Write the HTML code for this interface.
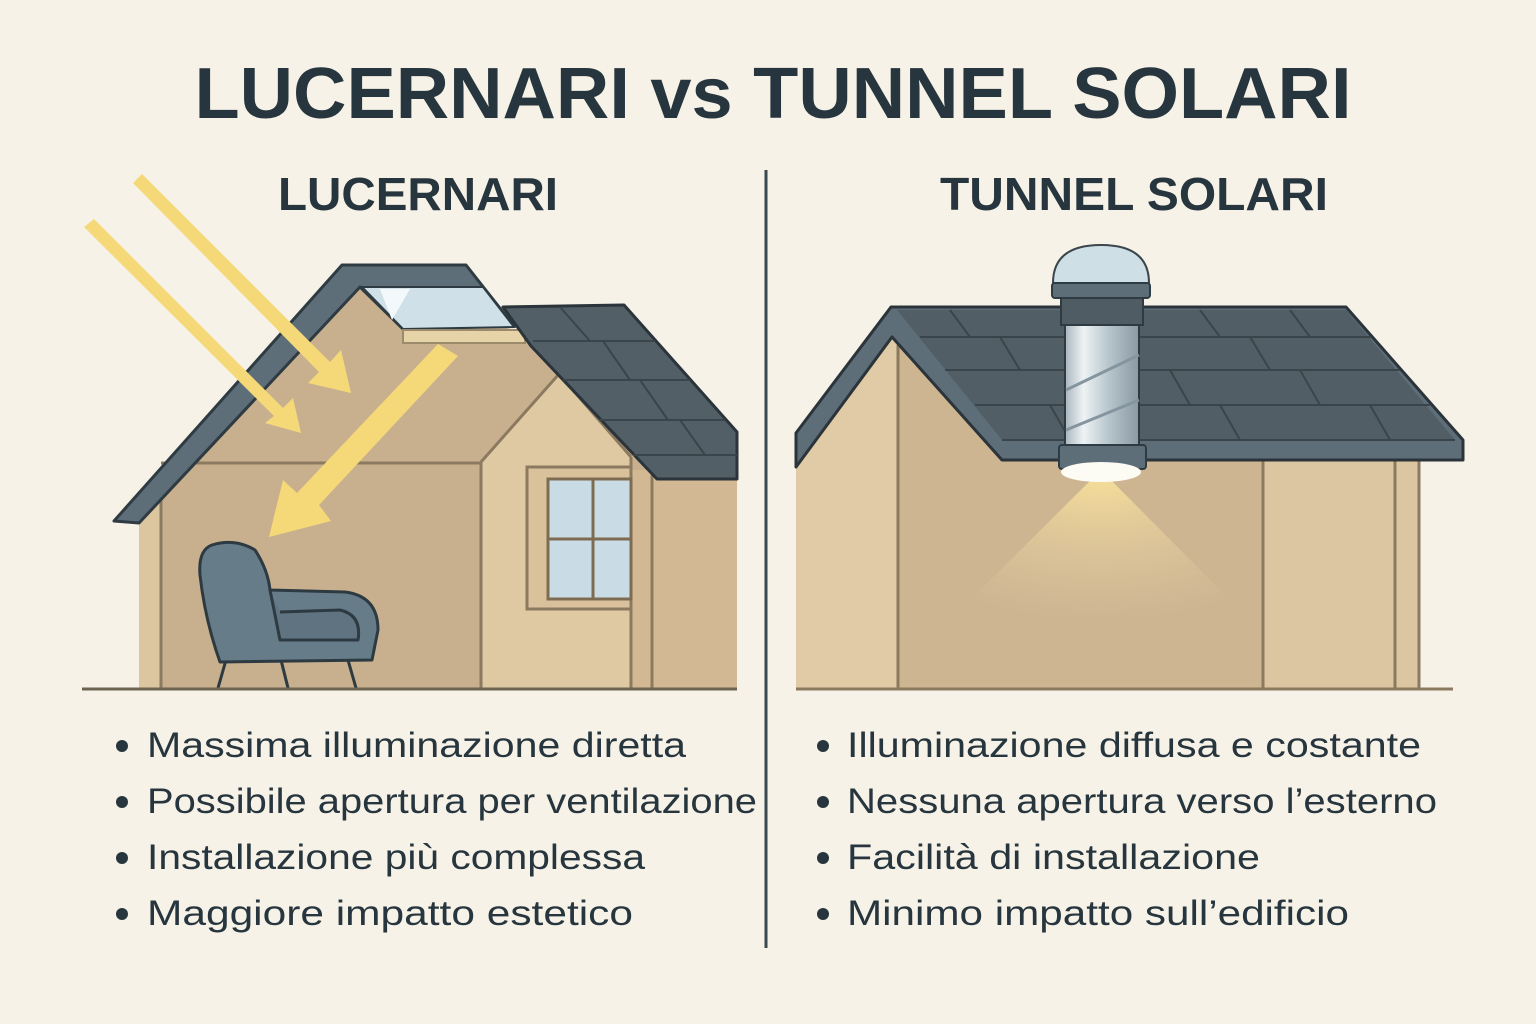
<!DOCTYPE html>
<html><head><meta charset="utf-8"><style>
html,body{margin:0;padding:0;background:#f7f2e7;}
svg{display:block}
text{font-family:"Liberation Sans",sans-serif;fill:#27363e}
</style></head><body>
<svg width="1536" height="1024" viewBox="0 0 1536 1024" xmlns="http://www.w3.org/2000/svg">
<defs>
<radialGradient id="glow" cx="0.5" cy="0" r="1">
<stop offset="0" stop-color="#fbe39a" stop-opacity="0.95"/>
<stop offset="0.5" stop-color="#f0d9a0" stop-opacity="0.45"/>
<stop offset="1" stop-color="#e8d3a8" stop-opacity="0"/>
</radialGradient>
<linearGradient id="tube" x1="0" x2="1">
<stop offset="0" stop-color="#a9b6bd"/><stop offset="0.25" stop-color="#eef3f5"/><stop offset="0.6" stop-color="#b6c4cb"/><stop offset="1" stop-color="#8a9aa2"/>
</linearGradient>
</defs>
<rect width="1536" height="1024" fill="#f7f2e7"/>

<text x="773" y="118" font-size="72" font-weight="bold" text-anchor="middle" textLength="1157" lengthAdjust="spacingAndGlyphs">LUCERNARI vs TUNNEL SOLARI</text>
<text x="418" y="210" font-size="46" font-weight="bold" text-anchor="middle" textLength="280" lengthAdjust="spacingAndGlyphs">LUCERNARI</text>
<text x="1134" y="210" font-size="46" font-weight="bold" text-anchor="middle" textLength="388" lengthAdjust="spacingAndGlyphs">TUNNEL SOLARI</text>
<line x1="766" y1="170" x2="766" y2="948" stroke="#3a4850" stroke-width="3"/>

<!-- LEFT HOUSE -->
<polygon points="139,688 139,523 360,287 514,330 737,479 737,688" fill="#c8b08e"/>
<polygon points="481,688 481,462 559,374 631,457 631,688" fill="#dfc9a3"/>
<rect x="631" y="470" width="106" height="218" fill="#d2b994"/>
<polygon points="139,688 139,523 161,500 161,688" fill="#dcc6a0"/>
<g stroke="#8c7a60" stroke-width="3" fill="none">
<line x1="161" y1="500" x2="161" y2="688"/>
<line x1="161" y1="463" x2="481" y2="463"/>
<line x1="481" y1="462" x2="481" y2="688"/>
<polyline points="481,462 559,374 631,457"/>
<line x1="631" y1="457" x2="631" y2="688"/>
<line x1="652" y1="475" x2="652" y2="688"/>
</g>
<!-- window -->
<rect x="527" y="467" width="104" height="142" fill="#d9c29b" stroke="#8c7a60" stroke-width="3"/>
<rect x="548" y="479" width="83" height="120" fill="#c9dbe4" stroke="#7e6c52" stroke-width="3"/>
<line x1="593" y1="479" x2="593" y2="599" stroke="#7e6c52" stroke-width="3"/>
<line x1="548" y1="539" x2="631" y2="539" stroke="#7e6c52" stroke-width="3"/>
<!-- left gray roof band -->
<polygon points="114,521 342,265 466,265 514,326 403,329 360,287 139,523" fill="#5e6e78" stroke="#2f3b42" stroke-width="3" stroke-linejoin="round"/>
<!-- skylight -->
<polygon points="362,287 483,287 514,327 403,329" fill="#cfe0e8" stroke="#2f3b42" stroke-width="2"/>
<polygon points="380,289 410,289 392,320" fill="#f3f8fa"/>
<rect x="403" y="330" width="122" height="13" fill="#e6d3a8" stroke="#9c8a6c" stroke-width="2"/>
<!-- right dark roof -->
<polygon points="503,307 624,305 737,432 737,479 657,479 531,346" fill="#525f67" stroke="#2a343a" stroke-width="3" stroke-linejoin="round"/>
<g stroke="#3a454b" stroke-width="2">
<line x1="533" y1="341" x2="655" y2="341"/><line x1="563" y1="380" x2="690" y2="380"/>
<line x1="600" y1="420" x2="725" y2="420"/><line x1="633" y1="455" x2="737" y2="455"/>
<line x1="560" y1="307" x2="590" y2="341"/><line x1="603" y1="341" x2="630" y2="380"/>
<line x1="640" y1="380" x2="668" y2="420"/><line x1="680" y1="420" x2="705" y2="455"/>
</g>
<!-- chair -->
<g stroke="#2d3a42" stroke-width="3" stroke-linejoin="round">
<line x1="226" y1="660" x2="218" y2="688"/><line x1="281" y1="660" x2="288" y2="688"/>
<line x1="348" y1="660" x2="356" y2="688"/>
<path d="M212,545 Q235,538 255,550 Q268,570 270,590 L345,592 Q378,596 378,630 L372,660 L220,662 Q205,620 200,575 Q198,550 212,545 Z" fill="#667c88"/>
<path d="M270,590 L280,640 L358,640 Q362,615 340,610 L280,612" fill="#5f7480"/>
</g>
<!-- arrows -->
<g fill="#f5d978" stroke="none">
<polygon points="133,183 142,174 330,362 341,350 351,393 308,383 319,372"/>
<polygon points="84,227 94,219 283,408 293,398 301,433 265,423 274,416"/>
<polygon points="438,344 458,356 319,505 331,521 269,537 283,480 297,493"/>
</g>

<!-- RIGHT HOUSE -->
<polygon points="796,688 796,467 892,337 1002,460 1419,460 1419,688" fill="#cdb592"/>
<polygon points="796,688 796,467 892,337 898,345 898,688" fill="#e0cba6"/>
<rect x="1263" y="460" width="156" height="228" fill="#dcc6a1"/>
<g stroke="#8c7a60" stroke-width="3">
<line x1="898" y1="345" x2="898" y2="688"/><line x1="1263" y1="460" x2="1263" y2="688"/>
<line x1="1395" y1="460" x2="1395" y2="688"/><line x1="1419" y1="460" x2="1419" y2="688"/>
</g>
<path d="M1101,470 L1230,600 Q1101,640 970,600 Z" fill="url(#glow)"/>
<polygon points="796,433 891,307 1346,307 1463,440 1463,460 1002,460 892,337 796,467" fill="#5e6e78" stroke="#2a343a" stroke-width="3" stroke-linejoin="round"/>
<polygon points="897,310 1346,310 1455,440 1002,440" fill="#515e66"/>
<g stroke="#3a454b" stroke-width="2">
<line x1="920" y1="337" x2="1371" y2="337"/><line x1="945" y1="370" x2="1400" y2="370"/>
<line x1="975" y1="405" x2="1430" y2="405"/><line x1="1002" y1="440" x2="1455" y2="440"/>
<line x1="950" y1="310" x2="970" y2="337"/><line x1="1000" y1="337" x2="1020" y2="370"/>
<line x1="1200" y1="310" x2="1220" y2="337"/><line x1="1250" y1="337" x2="1270" y2="370"/>
<line x1="1170" y1="370" x2="1190" y2="405"/><line x1="1300" y1="370" x2="1320" y2="405"/>
<line x1="1050" y1="405" x2="1070" y2="440"/><line x1="1220" y1="405" x2="1240" y2="440"/>
<line x1="1370" y1="405" x2="1390" y2="440"/><line x1="1290" y1="310" x2="1310" y2="337"/>
</g>
<!-- tube -->
<path d="M1053,283 Q1053,245 1101,245 Q1149,245 1149,283 Z" fill="#cfdfe6" stroke="#3a464c" stroke-width="2"/>
<rect x="1052" y="283" width="98" height="15" rx="3" fill="#5e6e78" stroke="#2f3b42" stroke-width="2"/>
<rect x="1061" y="298" width="82" height="27" fill="#4f5c63" stroke="#2f3b42" stroke-width="2"/>
<rect x="1065" y="325" width="74" height="120" fill="url(#tube)" stroke="#2f3b42" stroke-width="2"/>
<path d="M1066,390 L1139,355 M1066,430 L1139,400" stroke="#8595a0" stroke-width="3" fill="none"/>
<rect x="1059" y="445" width="87" height="24" rx="3" fill="#5e6e78" stroke="#2f3b42" stroke-width="2"/>
<ellipse cx="1101" cy="472" rx="40" ry="10" fill="#fdfcf4"/>
<line x1="796" y1="689" x2="1453" y2="689" stroke="#8c7a60" stroke-width="3"/>
<line x1="82" y1="689" x2="737" y2="689" stroke="#6e6250" stroke-width="3"/>

<!-- bullets -->
<g font-size="35">
<circle cx="122" cy="746" r="6" fill="#27363e"/><text x="147" y="757" textLength="539" lengthAdjust="spacingAndGlyphs">Massima illuminazione diretta</text>
<circle cx="122" cy="802" r="6" fill="#27363e"/><text x="147" y="813" textLength="610" lengthAdjust="spacingAndGlyphs">Possibile apertura per ventilazione</text>
<circle cx="122" cy="858" r="6" fill="#27363e"/><text x="147" y="869" textLength="498" lengthAdjust="spacingAndGlyphs">Installazione più complessa</text>
<circle cx="122" cy="914" r="6" fill="#27363e"/><text x="147" y="925" textLength="486" lengthAdjust="spacingAndGlyphs">Maggiore impatto estetico</text>
<circle cx="823" cy="746" r="6" fill="#27363e"/><text x="847" y="757" textLength="574" lengthAdjust="spacingAndGlyphs">Illuminazione diffusa e costante</text>
<circle cx="823" cy="802" r="6" fill="#27363e"/><text x="847" y="813" textLength="590" lengthAdjust="spacingAndGlyphs">Nessuna apertura verso l’esterno</text>
<circle cx="823" cy="858" r="6" fill="#27363e"/><text x="847" y="869" textLength="413" lengthAdjust="spacingAndGlyphs">Facilità di installazione</text>
<circle cx="823" cy="914" r="6" fill="#27363e"/><text x="847" y="925" textLength="502" lengthAdjust="spacingAndGlyphs">Minimo impatto sull’edificio</text>
</g>
</svg>
</body></html>
